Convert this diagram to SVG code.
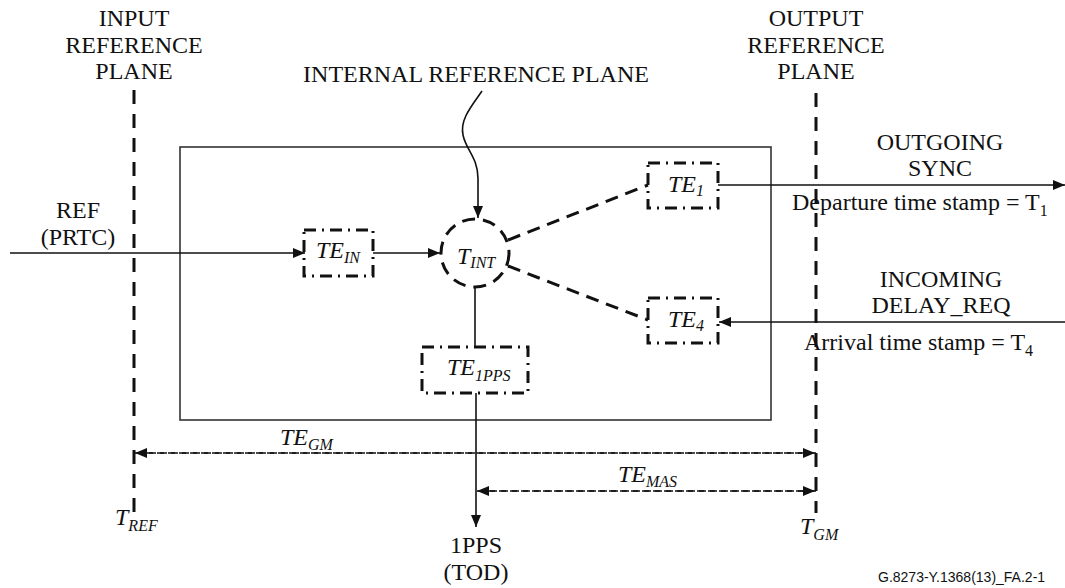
<svg xmlns="http://www.w3.org/2000/svg" width="1065" height="588" viewBox="0 0 1065 588" font-family="'Liberation Serif', 'Times New Roman', Tinos, 'DejaVu Serif', serif">
<style>
text{font-family:'Liberation Serif','Times New Roman',Tinos,'DejaVu Serif',serif;font-size:24px;fill:#111}
.it{font-style:italic}
.sub{font-size:16px}
.c{text-anchor:middle}
.plane{fill:none;stroke:#111;stroke-width:3;stroke-dasharray:14 10}
.dd{fill:none;stroke:#111;stroke-width:3;stroke-dasharray:12 6 2 6}
.dsh{fill:none;stroke:#111;stroke-width:3;stroke-dasharray:13 8}
.thin{fill:none;stroke:#111;stroke-width:1.6}
.tdash{fill:none;stroke:#111;stroke-width:1.6;stroke-dasharray:7 4}
text.foot{font-family:'Liberation Sans',Arial,sans-serif;font-size:14px}
</style>
<defs>
<marker id="ah" viewBox="0 0 12 10" refX="12" refY="5" markerWidth="12" markerHeight="10" markerUnits="userSpaceOnUse" orient="auto">
<path d="M0,0 L12,5 L0,10 Z" fill="#111"/>
</marker>
</defs>

<g id="labels">
<text class="c" x="134" y="26">INPUT</text>
<text class="c" x="134" y="52.5">REFERENCE</text>
<text class="c" x="134" y="79">PLANE</text>
<text class="c" x="816" y="26">OUTPUT</text>
<text class="c" x="816" y="52.5">REFERENCE</text>
<text class="c" x="816" y="79">PLANE</text>
<text class="c" x="476" y="82">INTERNAL REFERENCE PLANE</text>
<text class="c" x="78" y="218">REF</text>
<text class="c" x="78" y="245">(PRTC)</text>
<text class="c" x="940" y="150">OUTGOING</text>
<text class="c" x="940" y="176">SYNC</text>
<text x="792" y="210">Departure time stamp = T<tspan class="sub" dy="6">1</tspan></text>
<text class="c" x="941" y="287">INCOMING</text>
<text class="c" x="941" y="313">DELAY_REQ</text>
<text x="804" y="350">Arrival time stamp = T<tspan class="sub" dy="6">4</tspan></text>
<text class="it" x="280" y="445">TE<tspan class="sub" dy="5">GM</tspan></text>
<text class="it" x="618" y="482">TE<tspan class="sub" dy="5">MAS</tspan></text>
<text class="it" x="115" y="525">T<tspan class="sub" dy="6">REF</tspan></text>
<text class="it" x="800" y="534">T<tspan class="sub" dy="6">GM</tspan></text>
<text class="c" x="476" y="553">1PPS</text>
<text class="c" x="476" y="580">(TOD)</text>
<text class="foot" x="878" y="582">G.8273-Y.1368(13)_FA.2-1</text>
</g>

<g id="planes">
<line class="plane" x1="134" y1="90" x2="134" y2="513"/>
<line class="plane" x1="816" y1="93" x2="816" y2="513"/>
</g>

<g id="equipment">
<rect x="180" y="147" width="591" height="273" fill="none" stroke="#333" stroke-width="1.6"/>
</g>

<g id="te-in">
<rect class="dd" x="304" y="230" width="69" height="46"/>
<text class="it" x="316" y="258">TE<tspan class="sub" dy="5">IN</tspan></text>
</g>

<g id="t-int">
<circle class="dsh" cx="475" cy="253" r="34" stroke-dasharray="14 8"/>
<text class="it" x="457" y="264">T<tspan class="sub" dy="4">INT</tspan></text>
</g>

<g id="te-1">
<rect class="dd" x="648" y="163" width="70" height="45"/>
<text class="it" x="668" y="192">TE<tspan class="sub" dy="4">1</tspan></text>
</g>

<g id="te-4">
<rect class="dd" x="648" y="298" width="70" height="45"/>
<text class="it" x="668" y="327">TE<tspan class="sub" dy="4">4</tspan></text>
</g>

<g id="te-1pps">
<rect class="dd" x="422" y="347" width="106" height="46"/>
<text class="it" x="447" y="375">TE<tspan class="sub" dy="6">1PPS</tspan></text>
</g>

<g id="connectors">
<line class="thin" x1="10" y1="253" x2="305" y2="253" marker-end="url(#ah)"/>
<line class="thin" x1="373" y1="253" x2="440" y2="253" marker-end="url(#ah)"/>
<path class="thin" d="M482,91 C470,108 460,120 463,135 C466,150 478,158 478,178 L478,218" marker-end="url(#ah)"/>
<line class="dsh" x1="508" y1="240" x2="648" y2="185"/>
<line class="dsh" x1="508" y1="266" x2="648" y2="320"/>
<line class="thin" x1="475" y1="287" x2="475" y2="347"/>
<line class="thin" x1="718" y1="185" x2="1065" y2="185" marker-end="url(#ah)"/>
<line class="thin" x1="1065" y1="322" x2="719" y2="322" marker-end="url(#ah)"/>
<line class="thin" x1="476" y1="393" x2="476" y2="527" marker-end="url(#ah)"/>
<line class="tdash" x1="816" y1="453" x2="135" y2="453" marker-end="url(#ah)"/>
<line class="tdash" x1="135" y1="453" x2="815" y2="453" marker-end="url(#ah)"/>
<line class="tdash" x1="816" y1="491" x2="477" y2="491" marker-end="url(#ah)"/>
<line class="tdash" x1="477" y1="491" x2="815" y2="491" marker-end="url(#ah)"/>
</g>
</svg>
